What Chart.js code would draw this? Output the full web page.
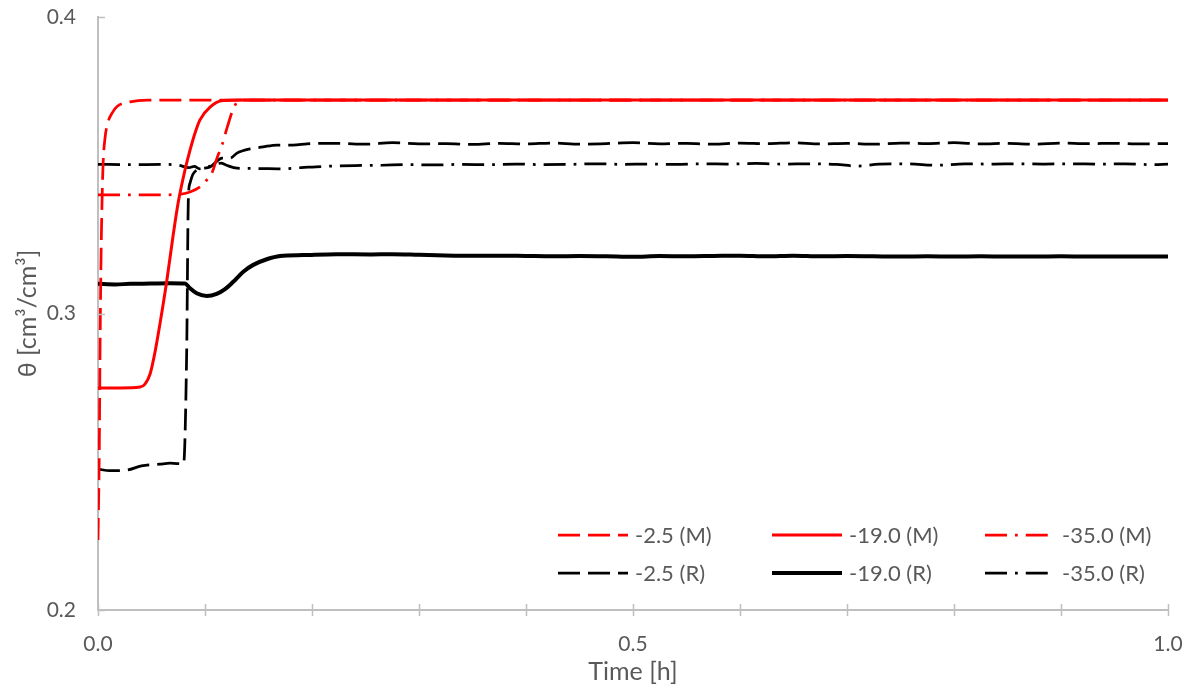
<!DOCTYPE html>
<html>
<head>
<meta charset="utf-8">
<script src="https://cdn.jsdelivr.net/npm/chart.js@4.4.1/dist/chart.umd.min.js"></script>
<style>
  html, body { margin: 0; padding: 0; background: #ffffff; }
  #wrap { width: 1190px; height: 688px; }
</style>
</head>
<body>
<div id="wrap"><canvas id="c" width="1190" height="688"></canvas></div>
<script>
// Water content θ over time for three pressure heads, measured (M) and reference (R)

const xTickLabels = ['0.0', '0.5', '1.0'];
const yTickLabels = ['0.2', '0.3', '0.4'];

// -2.5 (M)
const tM25 = [0, 0.0012, 0.0019, 0.0027, 0.0035, 0.0047, 0.0065, 0.0093, 0.013, 0.0178, 0.030, 0.046, 0.2, 0.4, 0.6, 0.8, 1.0];
const vM25 = [0.2236, 0.254, 0.2877, 0.315, 0.333, 0.350, 0.359, 0.3645, 0.3675, 0.3698, 0.3714, 0.372, 0.372, 0.372, 0.372, 0.372, 0.372];

// -19.0 (M)
const tM19 = [0, 0.0206, 0.0393, 0.0439, 0.0486, 0.0533, 0.0579, 0.0642, 0.0704, 0.0750, 0.0813, 0.0860, 0.0907, 0.0953, 0.1047, 0.1168, 0.1327, 0.3, 0.5, 0.7, 1.0];
const vM19 = [0.2749, 0.2749, 0.2752, 0.2762, 0.2795, 0.2870, 0.2965, 0.3108, 0.3268, 0.3375, 0.3484, 0.3551, 0.3609, 0.3653, 0.3696, 0.3718, 0.3720, 0.3720, 0.3720, 0.3720, 0.3720];

// -35.0 (M)
const tM35 = [0, 0.0486, 0.0720, 0.0860, 0.0953, 0.1000, 0.1065, 0.1112, 0.1159, 0.1206, 0.1271, 0.1327, 0.3, 0.5, 0.7, 1.0];
const vM35 = [0.3400, 0.3400, 0.3401, 0.3410, 0.3427, 0.3444, 0.3474, 0.3524, 0.3568, 0.3626, 0.3696, 0.3720, 0.3720, 0.3720, 0.3720, 0.3720];

// -2.5 (R)
const tR25 = [0, 0.011, 0.027, 0.0405, 0.0579, 0.0673, 0.0800, 0.0829, 0.0844, 0.0860, 0.0888, 0.0953, 0.1047, 0.1112, 0.1159, 0.1234, 0.1299, 0.1346, 0.1421, 0.1542, 0.1673, 0.1822, 0.1953, 0.2103,
  0.225, 0.25, 0.275, 0.30, 0.325, 0.35, 0.375, 0.40, 0.425, 0.45, 0.475, 0.50, 0.525, 0.55, 0.575, 0.60, 0.625, 0.65, 0.675, 0.70, 0.725, 0.75, 0.775, 0.80, 0.825, 0.85, 0.875, 0.90, 0.925, 0.95, 0.975, 1.0];
const vR25 = [0.2475, 0.2470, 0.2472, 0.2486, 0.2492, 0.2495, 0.2493, 0.2877, 0.3383, 0.3440, 0.3470, 0.3487, 0.3494, 0.3514, 0.3524, 0.3524, 0.3541, 0.3548, 0.3555, 0.3562, 0.3568, 0.3568, 0.3572, 0.3574,
  0.3574, 0.3571, 0.3576, 0.3572, 0.3573, 0.3570, 0.3574, 0.3572, 0.3575, 0.3571, 0.3573, 0.3576, 0.3572, 0.3574, 0.3571, 0.3575, 0.3573, 0.3576, 0.3572, 0.3574, 0.3571, 0.3575, 0.3573, 0.3576, 0.3572, 0.3574, 0.3571, 0.3575, 0.3573, 0.3574, 0.3572, 0.3573];

// -19.0 (R)
const tR19 = [0, 0.0159, 0.0299, 0.0486, 0.0673, 0.0813, 0.0860, 0.0922, 0.1016, 0.1109, 0.1187, 0.1264, 0.1358, 0.1451, 0.1577, 0.1701, 0.1919, 0.2231, 0.2542,
  0.275, 0.30, 0.325, 0.35, 0.375, 0.40, 0.425, 0.45, 0.475, 0.50, 0.525, 0.55, 0.575, 0.60, 0.625, 0.65, 0.675, 0.70, 0.725, 0.75, 0.775, 0.80, 0.825, 0.85, 0.875, 0.90, 0.925, 0.95, 0.975, 1.0];
const vR19 = [0.3100, 0.3098, 0.3100, 0.3101, 0.3102, 0.3101, 0.3085, 0.3068, 0.3059, 0.3066, 0.3082, 0.3107, 0.3141, 0.3164, 0.3183, 0.3194, 0.3197, 0.3200, 0.3199,
  0.3200, 0.3198, 0.3196, 0.3195, 0.3195, 0.3194, 0.3193, 0.3194, 0.3193, 0.3191, 0.3194, 0.3193, 0.3194, 0.3195, 0.3193, 0.3195, 0.3193, 0.3194, 0.3193, 0.3192, 0.3193, 0.3192, 0.3193, 0.3192, 0.3192, 0.3193, 0.3192, 0.3192, 0.3192, 0.3192];

// -35.0 (R)
const tR35 = [0, 0.03, 0.06, 0.075, 0.085, 0.09, 0.095, 0.10, 0.105, 0.11, 0.115, 0.12, 0.13, 0.15, 0.17, 0.19, 0.21,
  0.24, 0.265, 0.29, 0.315, 0.34, 0.365, 0.39, 0.415, 0.44, 0.465, 0.49, 0.515, 0.54, 0.565, 0.59, 0.615, 0.64, 0.665, 0.69, 0.71, 0.73, 0.755, 0.785, 0.81, 0.835, 0.86, 0.885, 0.91, 0.935, 0.96, 0.985, 1.0];
const vR35 = [0.3503, 0.3502, 0.3503, 0.3500, 0.3492, 0.3496, 0.3488, 0.3493, 0.3497, 0.3503, 0.3507, 0.3500, 0.3490, 0.3489, 0.3488, 0.3492, 0.3496,
  0.3499, 0.3500, 0.3502, 0.3501, 0.3503, 0.3502, 0.3504, 0.3502, 0.3503, 0.3505, 0.3503, 0.3504, 0.3503, 0.3505, 0.3504, 0.3506, 0.3504, 0.3505, 0.3503, 0.3497, 0.3504, 0.3505, 0.3500, 0.3505, 0.3504, 0.3505, 0.3504, 0.3505, 0.3504, 0.3505, 0.3502, 0.3504];

const RED = '#ff0000';
const BLACK = '#000000';
const AXIS = '#bfbfbf';
const TEXT = '#595959';
const FONT = 'Lato, "Open Sans", sans-serif';
const DASH = [22, 8];
const DASH_DOT = [22, 8, 2.75, 8];

const pts = (t, v) => t.map((x, i) => ({ x: x, y: v[i] }));

function series(label, t, v, color, width, dash) {
  return {
    label: label,
    data: pts(t, v),
    borderColor: color,
    backgroundColor: color,
    borderWidth: width,
    borderDash: dash,
    borderCapStyle: 'butt',
    borderJoinStyle: 'round',
    pointRadius: 0,
    pointHoverRadius: 0,
    fill: false,
    cubicInterpolationMode: 'monotone'
  };
}

// Cross-style tick marks on both axes
const tickMarks = {
  id: 'tickMarks',
  afterDraw(chart) {
    const { ctx, chartArea } = chart;
    const xs = chart.scales.x, ys = chart.scales.y;
    ctx.save();
    ctx.strokeStyle = AXIS;
    ctx.lineWidth = 1.5;
    ctx.beginPath();
    xs.ticks.forEach(tk => {
      const px = Math.round(xs.getPixelForValue(tk.value)) + 0.5;
      ctx.moveTo(px, chartArea.bottom - 6);
      ctx.lineTo(px, chartArea.bottom + 6);
    });
    ys.ticks.forEach(tk => {
      const py = Math.round(ys.getPixelForValue(tk.value)) + 0.5;
      ctx.moveTo(chartArea.left, py);
      ctx.lineTo(chartArea.left + 7, py);
    });
    ctx.stroke();
    ctx.restore();
  }
};

// Two-row, three-column legend inside the plot area
const insideLegend = {
  id: 'insideLegend',
  afterDraw(chart) {
    const { ctx, chartArea } = chart;
    const colX = [chartArea.right - 610, chartArea.right - 396, chartArea.right - 183];
    const rowY = [chartArea.bottom - 75, chartArea.bottom - 37];
    const sample = 70;
    chart.data.datasets.forEach((ds, i) => {
      const x0 = colX[i % 3];
      const y = rowY[Math.floor(i / 3)];
      ctx.save();
      ctx.strokeStyle = ds.borderColor;
      ctx.lineWidth = ds.borderWidth;
      ctx.lineCap = 'butt';
      ctx.setLineDash(ds.borderDash || []);
      ctx.beginPath();
      ctx.moveTo(x0, y);
      ctx.lineTo(x0 + sample, y);
      ctx.stroke();
      ctx.setLineDash([]);
      ctx.fillStyle = TEXT;
      ctx.font = '22px ' + FONT;
      ctx.textBaseline = 'middle';
      ctx.textAlign = 'left';
      ctx.fillText(ds.label, x0 + sample + 7, y + 1);
      ctx.restore();
    });
  }
};

function zeroPadding(scale) {
  scale.paddingLeft = 0;
  scale.paddingRight = 0;
  scale.paddingTop = 0;
  scale.paddingBottom = 0;
}

new Chart(document.getElementById('c'), {
  type: 'line',
  data: {
    datasets: [
      series('-2.5 (M)', tM25, vM25, RED, 2.75, DASH),
      series('-19.0 (M)', tM19, vM19, RED, 3, []),
      series('-35.0 (M)', tM35, vM35, RED, 2.75, DASH_DOT),
      series('-2.5 (R)', tR25, vR25, BLACK, 2.75, DASH),
      series('-19.0 (R)', tR19, vR19, BLACK, 4, []),
      series('-35.0 (R)', tR35, vR35, BLACK, 2.75, DASH_DOT)
    ]
  },
  options: {
    responsive: false,
    animation: false,
    events: [],
    layout: { padding: { left: 0, top: 17, right: 22, bottom: 0 } },
    plugins: {
      legend: { display: false },
      tooltip: { enabled: false },
      title: { display: false }
    },
    scales: {
      x: {
        type: 'linear',
        min: 0,
        max: 1,
        grid: { display: false, drawTicks: false },
        border: { display: true, color: AXIS, width: 2 },
        ticks: {
          stepSize: 0.1,
          autoSkip: false,
          maxRotation: 0,
          padding: 22,
          color: TEXT,
          font: { family: FONT, size: 21 },
          callback: (v) => {
            const k = Math.round(v * 2);
            return Math.abs(v * 2 - k) < 1e-9 ? xTickLabels[k] : '';
          }
        },
        title: {
          display: true,
          text: 'Time [h]',
          color: TEXT,
          font: { family: FONT, size: 25 },
          padding: { top: 0, bottom: 1 }
        },
        afterFit: (scale) => { scale.height = 78; zeroPadding(scale); }
      },
      y: {
        type: 'linear',
        min: 0.2,
        max: 0.4,
        grid: { display: false, drawTicks: false },
        border: { display: true, color: AXIS, width: 2 },
        ticks: {
          stepSize: 0.1,
          autoSkip: false,
          padding: 22,
          color: TEXT,
          font: { family: FONT, size: 21 },
          callback: (v) => {
            const k = Math.round((v - 0.2) * 10);
            return Math.abs((v - 0.2) * 10 - k) < 1e-9 ? yTickLabels[k] : '';
          }
        },
        title: {
          display: true,
          text: 'θ [cm³/cm³]',
          color: TEXT,
          font: { family: FONT, size: 25 },
          padding: { top: 13, bottom: 0 }
        },
        afterFit: (scale) => { scale.width = 98; zeroPadding(scale); }
      }
    }
  },
  plugins: [tickMarks, insideLegend]
});
</script>
</body>
</html>
